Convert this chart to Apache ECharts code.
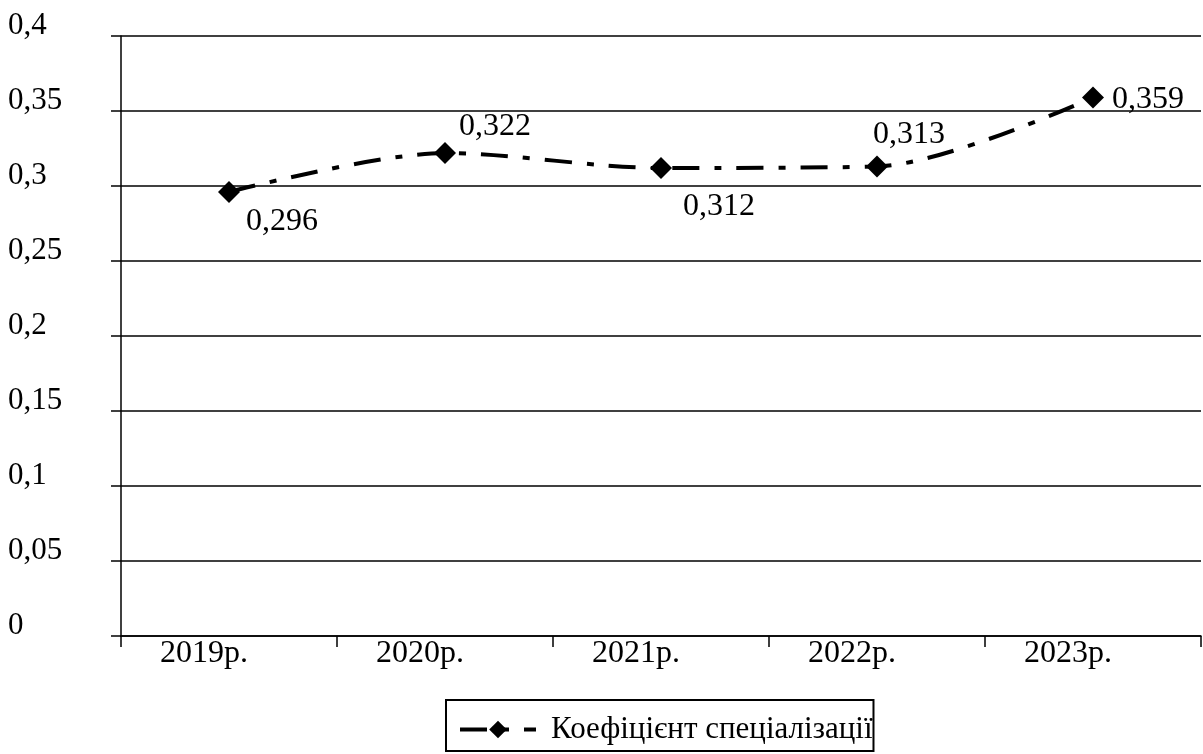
<!DOCTYPE html>
<html>
<head>
<meta charset="utf-8">
<script src="https://cdn.jsdelivr.net/npm/echarts@6/dist/echarts.min.js"></script>
<style>
html,body{margin:0;padding:0;background:#fff;}
#chart{width:1203px;height:754px;}
</style>
</head>
<body>
<div id="chart"></div>
<script>
const categories = ['2019р.', '2020р.', '2021р.', '2022р.', '2023р.'];
const seriesName = 'Коефіцієнт спеціалізації';
const values = [0.296, 0.322, 0.312, 0.313, 0.359];
const yTicks = [0, 0.05, 0.1, 0.15, 0.2, 0.25, 0.3, 0.35, 0.4];
// label placement relative to each point (layout only)
const labelOffsets = [[53, 30], [50, -26], [58, 39], [32, -32], [55, 2]];

const FONT = '"Liberation Serif", "Times New Roman", serif';
const fmt = v => String(v).replace('.', ',');

const chart = echarts.init(document.getElementById('chart'), null, {renderer: 'canvas'});
chart.setOption({
  backgroundColor: '#fff',
  animation: false,
  textStyle: {fontFamily: FONT, color: '#000'},
  grid: {left: 121, right: 2, top: 36, bottom: 118, containLabel: false},
  legend: {
    data: [seriesName],
    left: 446, top: 700,
    borderColor: '#000', borderWidth: 2, borderRadius: 0,
    padding: [14, 1, 6, 12],
    itemWidth: 76, itemHeight: 22,
    lineStyle: {width: 4},
    textStyle: {fontFamily: FONT, fontSize: 31, color: '#000', padding: [0, 0, 0, 10]}
  },
  xAxis: {
    type: 'category',
    data: categories,
    boundaryGap: true,
    axisLine: {show: true, lineStyle: {color: '#000', width: 1.5}},
    axisTick: {show: true, length: 11, lineStyle: {color: '#000', width: 1.5}},
    axisLabel: {fontFamily: FONT, fontSize: 32, color: '#000', margin: 2, padding: [0, 50, 0, 0]},
    splitLine: {show: false}
  },
  yAxis: {
    type: 'value',
    min: yTicks[0], max: yTicks[yTicks.length - 1], interval: 0.05,
    axisLine: {show: true, lineStyle: {color: '#000', width: 1.5}},
    axisTick: {show: true, length: 10, lineStyle: {color: '#000', width: 1.5}},
    axisLabel: {
      fontFamily: FONT, fontSize: 31, color: '#000',
      align: 'left', margin: 113, verticalAlign: 'bottom', lineHeight: 20,
      formatter: v => fmt(+v.toFixed(2))
    },
    splitLine: {show: true, lineStyle: {color: '#000', width: 1.5}}
  },
  series: [{
    name: seriesName,
    type: 'line',
    smooth: 0.3,
    data: values.map((v, i) => ({
      value: v,
      label: {offset: labelOffsets[i]}
    })),
    symbol: 'diamond',
    symbolSize: 22,
    itemStyle: {color: '#000'},
    lineStyle: {color: '#000', width: 4, type: [27, 15, 7, 15]},
    label: {
      show: true, position: 'inside', align: 'center', verticalAlign: 'middle',
      fontFamily: FONT, fontSize: 32, color: '#000',
      formatter: p => fmt(p.value)
    }
  }]
});
</script>
</body>
</html>
